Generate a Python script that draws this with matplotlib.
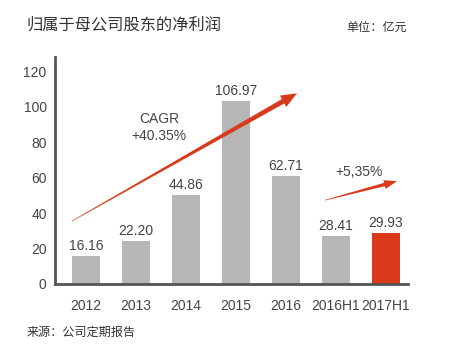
import numpy as np
import matplotlib
matplotlib.use('Agg')
import matplotlib.pyplot as plt
from matplotlib.patches import Polygon

plt.rcParams['font.family'] = ['Liberation Sans', 'Noto Sans CJK SC', 'DejaVu Sans']

# data
categories = ['2012', '2013', '2014', '2015', '2016', '2016H1', '2017H1']
bar_heights = [15.8, 24.2, 50.1, 103.1, 60.8, 27.0, 28.7]
value_labels = ['16.16', '22.20', '44.86', '106.97', '62.71', '28.41', '29.93']
yticks = [0, 20, 40, 60, 80, 100, 120]

GRAY = '#b5b6b5'
RED = '#d93a19'
TXT = '#444444'


def tapered_arrow(ax, start, end, w0, w1, head_len, head_w, color):
    # build a tapered arrow in pixel space, then map back to data coords
    p0 = ax.transData.transform(start)
    p1 = ax.transData.transform(end)
    d = p1 - p0
    L = np.hypot(*d)
    u = d / L
    n = np.array([-u[1], u[0]])
    base = p1 - u * head_len
    pts = [p0 + n * w0 / 2, base + n * w1 / 2, base + n * head_w / 2, p1,
           base - n * head_w / 2, base - n * w1 / 2, p0 - n * w0 / 2]
    pts = ax.transData.inverted().transform(np.array(pts))
    ax.add_patch(Polygon(pts, closed=True, facecolor=color, edgecolor='none', zorder=5))


fig = plt.figure(figsize=(4.52, 3.5), dpi=100)
ax = fig.add_axes([0.1217, 0.1886, 0.781, 0.648])

x = np.arange(len(categories))
colors = [GRAY] * (len(categories) - 1) + [RED]
ax.bar(x, bar_heights, width=0.56, color=colors, zorder=2)

for xi, h, lab in zip(x, bar_heights, value_labels):
    ax.annotate(lab, (xi, h), xytext=(0, 4.5), textcoords='offset points',
                ha='center', va='baseline', fontsize=10, color=TXT)

ax.set_xlim(-0.62, 6.44)
ax.set_ylim(0, 128)
ax.set_yticks(yticks)
ax.set_xticks(x)
ax.set_xticklabels(categories)
ax.tick_params(length=0, labelsize=10, labelcolor=TXT)
ax.tick_params(axis='y', pad=6)
ax.tick_params(axis='x', pad=11)

for s in ['top', 'right']:
    ax.spines[s].set_visible(False)
for s in ['left', 'bottom']:
    ax.spines[s].set_color('#555555')
    ax.spines[s].set_linewidth(2)

# growth arrows
tapered_arrow(ax, (-0.28, 35.5), (4.22, 107.6), 0.6, 5, 16, 13, RED)
tapered_arrow(ax, (4.78, 47.3), (6.22, 58.0), 0.6, 3.5, 13, 9, RED)

ax.text(1.46, 93, 'CAGR', ha='center', va='center', fontsize=10, color=TXT)
ax.text(1.46, 83.4, '+40.35%', ha='center', va='center', fontsize=10, color=TXT)
ax.text(5.46, 63, '+5,35%', ha='center', va='center', fontsize=10, color=TXT)

fig.text(27 / 452, 1 - 25 / 350, '归属于母公司股东的净利润', ha='left', va='center',
         fontsize=11.7, color='#333333')
fig.text(407 / 452, 1 - 28 / 350, '单位：亿元', ha='right', va='center',
         fontsize=8.7, color='#333333')
fig.text(27 / 452, 1 - 333 / 350, '来源：公司定期报告', ha='left', va='center',
         fontsize=8.7, color='#333333')

fig.savefig('out.png', dpi=100)
